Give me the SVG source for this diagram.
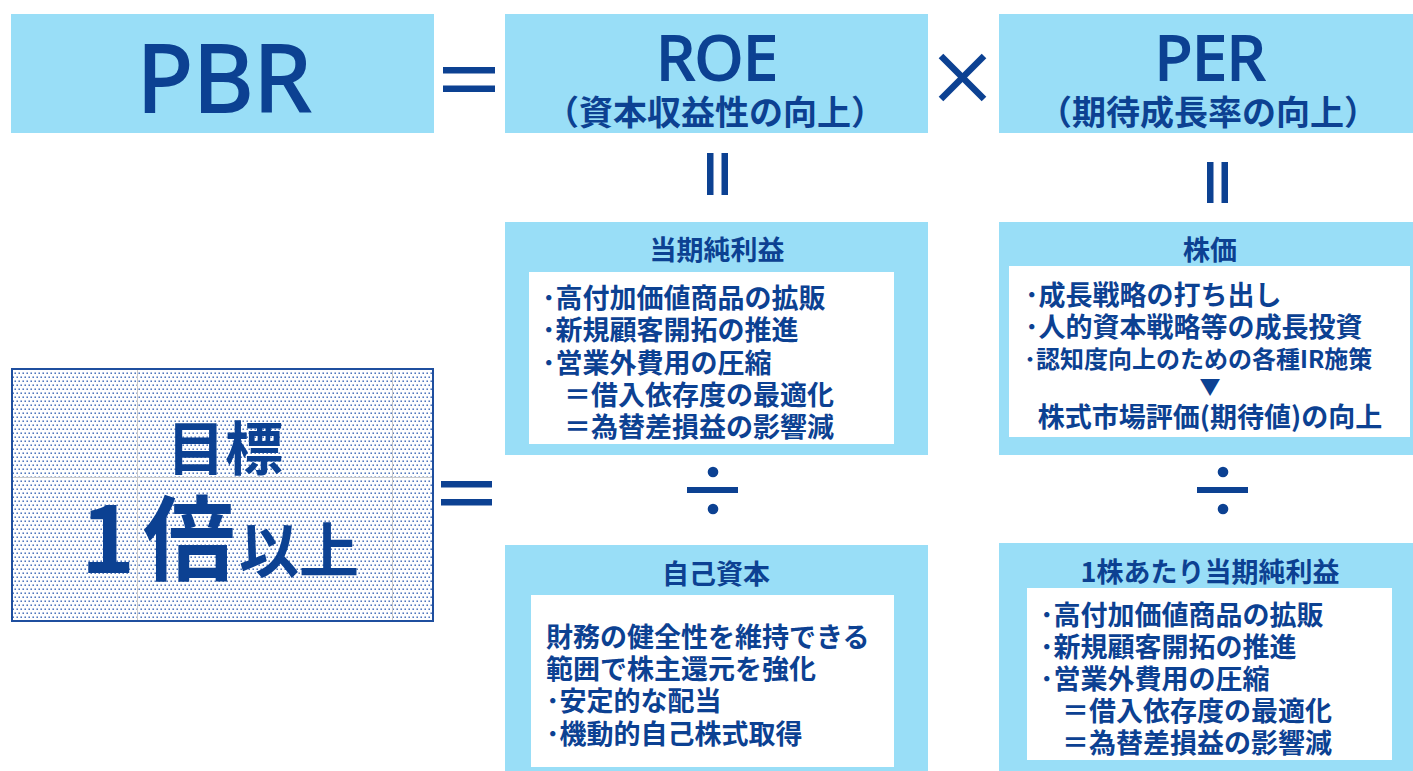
<svg xmlns="http://www.w3.org/2000/svg" width="1413" height="771" viewBox="0 0 1413 771">
  <style>
    .box { fill: #99DEF7; }
    .inner { fill: #FFFFFF; }
    .op { fill: #0C4192; }
    .lat { font-family: "Noto Sans", "Noto Sans CJK JP", sans-serif; font-weight: 400; fill: #0C4192; stroke: #0C4192; stroke-width: 2; text-anchor: middle; }
    .jp { font-family: "Noto Sans CJK JP", "Noto Sans", sans-serif; font-weight: 700; fill: #0C4192; dominant-baseline: central; }
    .sub { font-size: 34px; text-anchor: middle; }
    .ttl { font-size: 27px; text-anchor: middle; }
    .body { font-size: 27px; }
  </style>
  <defs>
    <pattern id="dots" width="4" height="8" patternUnits="userSpaceOnUse">
      <rect x="0.5" y="0.5" width="1.4" height="1.4" fill="#2656ad"/>
      <rect x="2.5" y="4.5" width="1.4" height="1.4" fill="#2656ad"/>
    </pattern>
  </defs>
  <rect width="1413" height="771" fill="#FFFFFF"/>

  <g id="pbr">
    <rect class="box" x="11" y="14" width="423" height="119"/>
    <text class="lat" x="224" y="112" font-size="93">PBR</text>
  </g>

  <g id="roe">
    <rect class="box" x="505" y="14" width="423" height="119"/>
    <text class="lat" x="717" y="80" font-size="62">ROE</text>
    <text class="jp sub" x="715" y="110">（資本収益性の向上）</text>
  </g>

  <g id="per">
    <rect class="box" x="999" y="14" width="414" height="119"/>
    <text class="lat" x="1210" y="80" font-size="62">PER</text>
    <text class="jp sub" x="1208" y="110">（期待成長率の向上）</text>
  </g>

  <g id="target">
    <rect x="12" y="369" width="421" height="252" fill="url(#dots)"/>
    <line x1="137.5" y1="370" x2="137.5" y2="620" stroke="#c8c8c8" stroke-width="1"/>
    <line x1="392.5" y1="370" x2="392.5" y2="620" stroke="#c8c8c8" stroke-width="1"/>
    <line x1="13" y1="477.5" x2="432" y2="477.5" stroke="#c8c8c8" stroke-width="1"/>
    <rect x="12" y="369" width="421" height="252" fill="none" stroke="#1f4f9f" stroke-width="2"/>
    <text class="jp" x="225" y="445" font-size="58" text-anchor="middle">目標</text>
    <text font-family="Noto Sans CJK JP, sans-serif" font-weight="700" fill="#0C4192" y="573"><tspan x="108" font-size="92" text-anchor="middle">1</tspan><tspan x="189" font-size="92" text-anchor="middle">倍</tspan><tspan x="299" font-size="60" text-anchor="middle">以上</tspan></text>
  </g>

  <g id="net-income">
    <rect class="box" x="505" y="222" width="423" height="233"/>
    <rect class="inner" x="529" y="272" width="365" height="172"/>
    <text class="jp ttl" x="717" y="248">当期純利益</text>
    <text class="jp body" x="542" y="296">･高付加価値商品の拡販</text>
    <text class="jp body" x="542" y="328.5">･新規顧客開拓の推進</text>
    <text class="jp body" x="542" y="361">･営業外費用の圧縮</text>
    <text class="jp body" x="564" y="393">＝借入依存度の最適化</text>
    <text class="jp body" x="564" y="425">＝為替差損益の影響減</text>
  </g>

  <g id="stock-price">
    <rect class="box" x="999" y="222" width="414" height="233"/>
    <rect class="inner" x="1009" y="266" width="401" height="171"/>
    <text class="jp ttl" x="1210" y="248">株価</text>
    <text class="jp body" x="1025" y="293">･成長戦略の打ち出し</text>
    <text class="jp body" x="1025" y="325">･人的資本戦略等の成長投資</text>
    <text class="jp" x="1024" y="357" font-size="24">･認知度向上のための各種IR施策</text>
    <text class="jp" x="1210" y="385" font-size="21" text-anchor="middle">▼</text>
    <text class="jp body" x="1210" y="415" text-anchor="middle">株式市場評価(期待値)の向上</text>
  </g>

  <g id="equity">
    <rect class="box" x="505" y="545" width="423" height="226"/>
    <rect class="inner" x="531" y="595" width="363" height="172"/>
    <text class="jp ttl" x="716" y="572">自己資本</text>
    <text class="jp body" x="546" y="635">財務の健全性を維持できる</text>
    <text class="jp body" x="546" y="667">範囲で株主還元を強化</text>
    <text class="jp body" x="546" y="699">･安定的な配当</text>
    <text class="jp body" x="546" y="732">･機動的自己株式取得</text>
  </g>

  <g id="eps">
    <rect class="box" x="999" y="543" width="414" height="228"/>
    <rect class="inner" x="1027" y="588" width="365" height="172"/>
    <text class="jp ttl" x="1210" y="570">1株あたり当期純利益</text>
    <text class="jp body" x="1040" y="613">･高付加価値商品の拡販</text>
    <text class="jp body" x="1040" y="645">･新規顧客開拓の推進</text>
    <text class="jp body" x="1040" y="677">･営業外費用の圧縮</text>
    <text class="jp body" x="1062" y="709">＝借入依存度の最適化</text>
    <text class="jp body" x="1062" y="741">＝為替差損益の影響減</text>
  </g>

  <g id="connectors">
    <rect class="op" x="443" y="67" width="52" height="6.5"/>
    <rect class="op" x="443" y="85.5" width="52" height="6.5"/>
    <line x1="941" y1="56" x2="984" y2="99" stroke="#0C4192" stroke-width="6.5"/>
    <line x1="984" y1="56" x2="941" y2="99" stroke="#0C4192" stroke-width="6.5"/>
    <rect class="op" x="707" y="153" width="6.5" height="42"/>
    <rect class="op" x="721.5" y="153" width="6.5" height="42"/>
    <rect class="op" x="1207" y="162" width="6.5" height="41"/>
    <rect class="op" x="1221.5" y="162" width="6.5" height="41"/>
    <rect class="op" x="441" y="481" width="51" height="6.5"/>
    <rect class="op" x="441" y="499" width="51" height="6.5"/>
    <circle class="op" cx="713" cy="472" r="5.3"/>
    <rect class="op" x="687" y="487" width="51" height="6"/>
    <circle class="op" cx="713" cy="509" r="5.3"/>
    <circle class="op" cx="1223" cy="472" r="5.3"/>
    <rect class="op" x="1197" y="487" width="51" height="6"/>
    <circle class="op" cx="1223" cy="509" r="5.3"/>
  </g>
</svg>
